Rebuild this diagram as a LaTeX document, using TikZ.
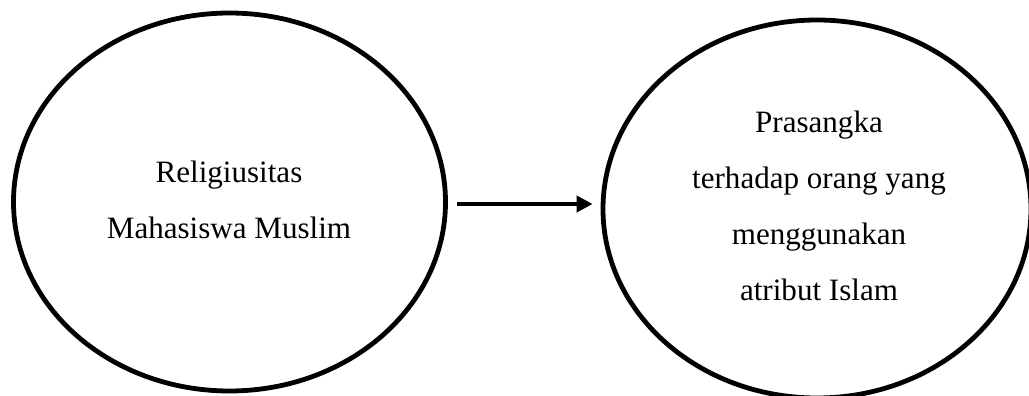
\documentclass[tikz,border=0pt]{standalone}
\usepackage{fontspec}
\setmainfont{Liberation Serif}
\usetikzlibrary{shapes.geometric,arrows.meta}
\begin{document}
\begin{tikzpicture}[x=0.75pt,y=-0.75pt,
  bubble/.style={draw=black,line width=3.6pt,ellipse,inner sep=0pt},
  lbl/.style={align=center,font=\fontsize{23.3}{42}\selectfont,inner sep=0pt},
  link/.style={line width=3pt,-{Triangle[length=12pt,width=12pt]}}]
\useasboundingbox (0,0) rectangle (1029,396);
\node[bubble,minimum width=432pt*0.75,minimum height=378pt*0.75] (L) at (229.5,202) {};
\node[bubble,minimum width=428pt*0.75,minimum height=378pt*0.75] (R) at (817,209) {};
\node[lbl] (Lt) at (229,200) {Religiusitas\\Mahasiswa Muslim};
\node[lbl] (Rt) at (819,206) {Prasangka\\terhadap orang yang\\menggunakan\\atribut Islam};
\coordinate (A) at ([xshift=7.1pt,yshift=-1.5pt]L.east);
\coordinate (B) at ([xshift=-6pt]R.west |- A);
\draw[link] (A) -- (B);
\end{tikzpicture}
\end{document}
